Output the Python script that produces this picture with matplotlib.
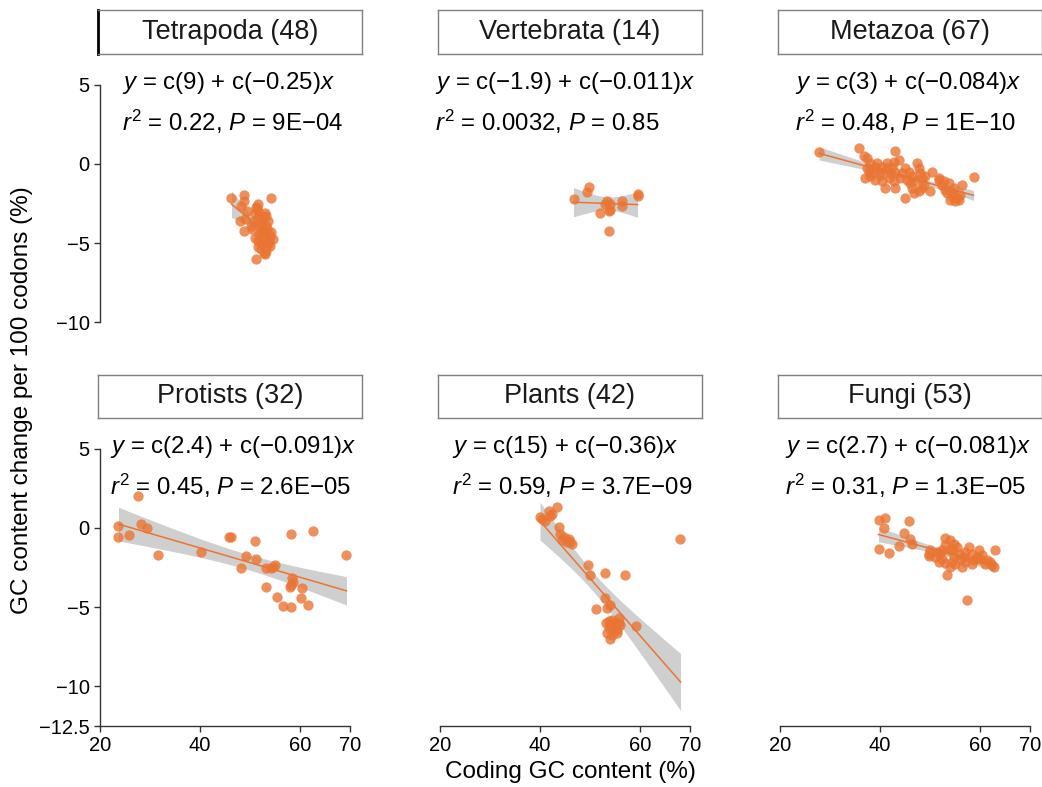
import numpy as np
import matplotlib
matplotlib.use("Agg")
import matplotlib.pyplot as plt

plt.rcParams["font.family"] = ["Liberation Sans", "DejaVu Sans"]
plt.rcParams["mathtext.fontset"] = "custom"
plt.rcParams["mathtext.rm"] = "Liberation Sans"
plt.rcParams["mathtext.it"] = "Liberation Sans:italic"

groups = ["Tetrapoda", "Vertebrata", "Metazoa", "Protists", "Plants", "Fungi"]

equations = [
    ("c(9)", "c(\u22120.25)", "0.22", "9E\u221204"),
    ("c(\u22121.9)", "c(\u22120.011)", "0.0032", "0.85"),
    ("c(3)", "c(\u22120.084)", "0.48", "1E\u221210"),
    ("c(2.4)", "c(\u22120.091)", "0.45", "2.6E\u221205"),
    ("c(15)", "c(\u22120.36)", "0.59", "3.7E\u221209"),
    ("c(2.7)", "c(\u22120.081)", "0.31", "1.3E\u221205"),
]

tetrapoda_x = [46.3, 48.9, 54.3, 48.9, 48.3, 51.7, 51.7, 51.0, 53.3, 53.7, 48.0, 49.0,
               52.7, 52.0, 53.3, 48.7, 52.3, 54.0, 54.7, 51.7, 52.7, 51.7, 53.3, 53.0,
               51.3, 51.0, 53.0, 52.3, 54.0, 50.3, 51.5, 52.0, 52.5, 53.5, 52.8, 53.8,
               52.2, 53.5, 51.8, 52.6, 50.8, 49.5, 51.2, 53.0, 54.2, 52.9, 50.5, 51.6]
tetrapoda_y = [-2.15, -1.94, -2.15, -2.36, -2.67, -2.56, -2.98, -3.08, -3.29, -3.61, -3.61, -3.5,
               -3.5, -3.92, -3.92, -4.23, -4.33, -4.54, -4.75, -4.86, -5.06, -5.27, -5.48, -5.69,
               -6.0, -4.65, -4.86, -5.38, -5.17, -3.92, -2.8, -3.3, -3.7, -4.1, -4.5, -4.9,
               -5.0, -5.2, -4.4, -4.2, -3.6, -3.0, -2.7, -3.1, -4.3, -5.6, -4.1, -3.4]

vertebrata_x = [46.7, 49.7, 49.3, 53.3, 53.0, 54.0, 52.0, 53.7, 56.3, 56.3, 59.5, 59.5, 53.7, 54.0]
vertebrata_y = [-2.2, -1.46, -1.79, -2.36, -2.56, -2.88, -3.08, -2.98, -2.36, -2.63, -1.88, -2.0, -4.23, -2.56]

metazoa_x = [27.8, 35.7, 42.9, 37.3, 36.7, 38.0, 39.3, 37.3, 37.7, 39.0, 40.0, 37.0, 39.0, 41.3,
             42.7, 43.7, 43.0, 42.0, 41.7, 41.0, 43.0, 45.0, 45.7, 47.3, 47.7, 46.3, 45.3, 47.0,
             47.7, 45.0, 46.3, 48.0, 50.0, 50.3, 51.7, 52.3, 53.7, 53.0, 54.3, 55.3, 55.0, 56.0,
             56.3, 58.7, 51.7, 40.0, 38.3, 44.3, 42.3, 46.0, 48.3, 54.7, 53.3, 55.7, 40.3, 38.0,
             44.0, 46.7, 48.7, 42.7, 49.0, 52.7, 54.0, 41.3, 40.3, 48.3, 54.3]
metazoa_y = [0.77, 0.98, 0.81, 0.40, 0.52, 0.04, 0.04, -0.27, -0.48, -0.17, -0.48, -0.90, -1.0, -0.27,
             0.15, 0.25, -0.48, -0.58, -0.90, -1.52, -1.52, -0.27, -0.48, 0.04, -0.27, -0.79, -1.0, -1.1,
             -1.73, -2.15, -1.52, -0.58, -1.73, -0.48, -1.0, -1.31, -1.21, -1.63, -1.83, -2.15, -2.35, -1.94,
             -1.31, -0.85, -0.9, -0.69, -0.58, -0.58, -0.17, -1.21, -0.9, -1.52, -1.83, -2.25, -1.1, -0.79,
             -0.9, -1.83, -1.31, -1.1, -0.79, -1.1, -2.25, 0.04, -0.17, -1.52, -2.04]

protists_x = [27.5, 23.7, 23.7, 25.7, 28.1, 29.3, 31.5, 40.3, 45.9, 46.3, 51.0, 49.2, 51.2, 48.1,
              53.3, 54.3, 55.0, 58.3, 62.7, 69.3, 53.3, 55.5, 56.7, 58.3, 60.3, 61.7, 60.5, 58.5,
              58.3, 58.7, 54.7, 58.1]
protists_y = [2.02, 0.15, -0.58, -0.44, 0.25, -0.02, -1.69, -1.52, -0.58, -0.58, -0.85, -1.79, -1.94, -2.56,
              -2.52, -2.56, -2.35, -0.38, -0.17, -1.69, -3.71, -4.33, -4.9, -4.96, -4.44, -4.85, -3.81, -3.19,
              -3.6, -3.4, -2.46, -3.71]

plants_x = [40.0, 41.0, 41.7, 42.3, 43.3, 43.7, 44.0, 44.7, 45.7, 46.3, 44.3, 45.3, 68.1, 49.5,
            49.9, 53.0, 56.9, 53.0, 54.0, 51.2, 53.3, 55.7, 54.3, 53.2, 55.0, 56.0, 59.2, 53.7,
            54.7, 53.3, 54.3, 54.0, 55.3, 54.0, 55.0, 40.3, 42.0, 46.0, 55.7, 54.7, 53.7, 55.3]
plants_y = [0.67, 0.46, 1.04, 0.88, 1.29, 0.04, -0.38, -0.58, -0.69, -1.0, -0.79, -0.9, -0.69, -2.35,
            -2.98, -2.83, -2.98, -4.44, -4.85, -5.13, -5.06, -5.69, -5.79, -6.0, -6.1, -6.1, -6.17, -6.31,
            -6.42, -6.63, -6.73, -7.04, -6.63, -6.1, -6.31, 0.56, 0.77, -0.9, -6.0, -6.0, -5.9, -6.42]

fungi_x = [39.7, 40.9, 40.7, 45.7, 39.7, 41.7, 43.7, 44.7, 46.0, 46.3, 49.7, 49.7, 52.9, 54.0,
           54.3, 52.0, 51.7, 53.3, 53.0, 54.7, 55.7, 56.3, 57.0, 57.7, 58.3, 59.7, 59.3, 57.0,
           55.0, 54.0, 52.3, 51.0, 50.0, 56.0, 62.0, 63.0, 62.7, 57.3, 53.7, 55.3, 58.7, 60.0,
           61.0, 52.3, 53.0, 54.7, 56.7, 51.3, 60.3, 62.3, 61.3, 58.3, 54.3]
fungi_y = [0.5, 0.63, 0.0, 0.42, -1.31, -1.58, -1.17, -0.33, -0.69, -1.04, -1.63, -1.79, -0.63, -0.79,
           -1.31, -1.63, -2.15, -2.98, -2.21, -1.83, -1.63, -2.46, -2.15, -1.21, -1.63, -1.42, -1.83, -1.52,
           -2.25, -2.46, -1.94, -1.83, -1.42, -1.94, -2.15, -1.42, -2.46, -4.54, -1.42, -1.21, -2.04, -1.94,
           -2.25, -1.42, -1.1, -1.0, -1.83, -1.52, -1.73, -2.35, -2.04, -2.25, -2.15]

xs_all = [tetrapoda_x, vertebrata_x, metazoa_x, protists_x, plants_x, fungi_x]
ys_all = [tetrapoda_y, vertebrata_y, metazoa_y, protists_y, plants_y, fungi_y]

x_ticks = [20, 40, 60, 70]
y_ticks_top = [-10, -5, 0, 5]
y_ticks_bottom = [-12.5, -10, -5, 0, 5]

orange = "#EA7533"
W, H = 1042, 787
col_left = [100, 440, 780]
panel_w = 262
row_top = [54, 418]
panel_h = 308
strip_top = [10, 375]
label_x = [24.4, 19.0, 23.0, 22.0, 22.4, 21.0]


def t_quant(df):
    z = 1.959964
    return z + (z**3 + z) / (4 * df) + (5 * z**5 + 16 * z**3 + 3 * z) / (96 * df**2)


def fit_band(x, y):
    x = np.asarray(x)
    y = np.asarray(y)
    n = len(x)
    b, a = np.polyfit(x, y, 1)
    resid = y - (a + b * x)
    s = np.sqrt(np.sum(resid**2) / (n - 2))
    grid = np.linspace(x.min(), x.max(), 80)
    se = s * np.sqrt(1.0 / n + (grid - x.mean())**2 / np.sum((x - x.mean())**2))
    fit = a + b * grid
    t = t_quant(n - 2)
    return grid, fit, fit - t * se, fit + t * se


fig = plt.figure(figsize=(W / 100, H / 100), dpi=100)

for i, name in enumerate(groups):
    r, c = divmod(i, 3)
    left = col_left[c] / W
    bottom = 1 - (row_top[r] + panel_h) / H
    ax = fig.add_axes([left, bottom, panel_w / W, panel_h / H])
    ax.set_xlim(20, 20 + panel_w / 5)
    ax.set_ylim(-12.5, 5 + 31 / 16)

    grid, fit, lo, hi = fit_band(xs_all[i], ys_all[i])
    ax.fill_between(grid, lo, hi, color="#a0a0a0", alpha=0.5, lw=0, zorder=1)
    ax.scatter(xs_all[i], ys_all[i], s=55, color=orange, alpha=0.8, lw=0, zorder=2)
    ax.plot(grid, fit, color=orange, lw=1.1, zorder=3)

    a, b, r2, p = equations[i]
    ax.text(label_x[i], 5.1, "$y$ = " + a + " + " + b + "$x$", fontsize=17.3,
            ha="left", va="center")
    ax.text(label_x[i], 2.65, "$r^2$ = " + r2 + ", $P$ = " + p, fontsize=17.3,
            ha="left", va="center")

    for s in ["top", "right"]:
        ax.spines[s].set_visible(False)
    ax.spines["left"].set_visible(c == 0)
    ax.spines["bottom"].set_visible(r == 1)
    for s in ["left", "bottom"]:
        ax.spines[s].set_color("#333333")
        ax.spines[s].set_linewidth(1.0)
    ax.spines["bottom"].set_bounds(20, 70)
    if r == 0:
        ax.spines["left"].set_bounds(-10, 5)
    else:
        ax.spines["left"].set_bounds(-12.5, 5)

    ax.tick_params(colors="#333333", labelcolor="black", labelsize=14.5, length=4, width=1)
    if r == 1:
        ax.set_xticks(x_ticks)
        ax.set_xticklabels([str(v) for v in x_ticks])
    else:
        ax.set_xticks([])
    if c == 0:
        yt = y_ticks_top if r == 0 else y_ticks_bottom
        ax.set_yticks(yt)
        ax.set_yticklabels([("\u2212" if v < 0 else "") + ("%g" % abs(v)) for v in yt])
    else:
        ax.set_yticks([])

    # strip
    sax = fig.add_axes([left - 2 / W, 1 - (row_top[r]) / H, (panel_w + 2) / W,
                        (row_top[r] - strip_top[r]) / H])
    sax.set_xticks([])
    sax.set_yticks([])
    for s in sax.spines.values():
        s.set_color("#7f7f7f")
        s.set_linewidth(1.0)
    sax.text(0.5, 0.5, "%s (%d)" % (name, len(xs_all[i])), fontsize=19.5,
             ha="center", va="center", color="#1a1a1a", transform=sax.transAxes)
    if i == 0:
        sax.spines["left"].set_color("black")
        sax.spines["left"].set_linewidth(2.0)

fig.text(22 / W, 1 - 400 / H, "GC content change per 100 codons (%)", rotation=90,
         fontsize=17.5, ha="center", va="center")
fig.text(570 / W, 1 - 772 / H, "Coding GC content (%)", fontsize=17.5,
         ha="center", va="center")

fig.savefig("out.png", dpi=100)
